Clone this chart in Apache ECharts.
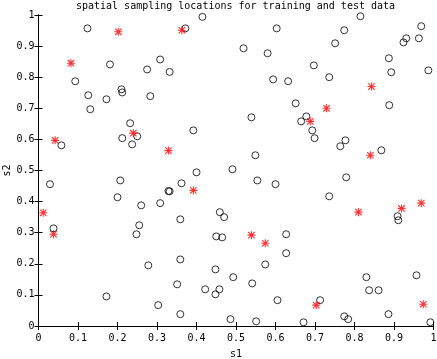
<!DOCTYPE html>
<html>
<head>
<meta charset="utf-8">
<script src="https://cdn.jsdelivr.net/npm/echarts@6/dist/echarts.min.js"></script>
<style>
  html, body { margin: 0; padding: 0; background: #fff; }
  #chart { width: 437px; height: 359px; }
</style>
</head>
<body>
<div id="chart"></div>
<script>
// training locations (open circles)
const trainS1 = [0.124, 0.415, 0.372, 0.181, 0.308, 0.275, 0.332, 0.093, 0.210, 0.212,
  0.126, 0.172, 0.283, 0.131, 0.232, 0.392, 0.212, 0.250, 0.237, 0.058,
  0.400, 0.491, 0.815, 0.603, 0.774, 0.969, 0.931, 0.924, 0.963, 0.751,
  0.519, 0.580, 0.887, 0.697, 0.893, 0.987, 0.736, 0.594, 0.632, 0.651,
  0.888, 0.539, 0.678, 0.665, 0.693, 0.699, 0.777, 0.764, 0.549, 0.868,
  0.029, 0.207, 0.362, 0.329, 0.332, 0.200, 0.260, 0.308, 0.459, 0.470,
  0.359, 0.038, 0.255, 0.248, 0.450, 0.465, 0.278, 0.359, 0.448, 0.493,
  0.172, 0.351, 0.422, 0.458, 0.448, 0.303, 0.359, 0.486, 0.554, 0.600,
  0.779, 0.736, 0.909, 0.911, 0.627, 0.627, 0.574, 0.541, 0.830, 0.957,
  0.837, 0.861, 0.605, 0.713, 0.551, 0.671, 0.774, 0.784, 0.886, 0.992];
const trainS2 = [0.957, 0.994, 0.957, 0.841, 0.857, 0.825, 0.817, 0.787, 0.761, 0.751,
  0.742, 0.729, 0.739, 0.697, 0.652, 0.629, 0.604, 0.610, 0.584, 0.581,
  0.494, 0.504, 0.996, 0.957, 0.951, 0.964, 0.925, 0.912, 0.925, 0.909,
  0.893, 0.877, 0.861, 0.838, 0.816, 0.822, 0.800, 0.793, 0.787, 0.716,
  0.710, 0.671, 0.674, 0.658, 0.629, 0.604, 0.597, 0.578, 0.549, 0.565,
  0.456, 0.468, 0.459, 0.434, 0.433, 0.414, 0.388, 0.395, 0.366, 0.350,
  0.343, 0.314, 0.324, 0.295, 0.288, 0.285, 0.195, 0.214, 0.182, 0.157,
  0.095, 0.134, 0.118, 0.118, 0.102, 0.067, 0.038, 0.022, 0.468, 0.456,
  0.478, 0.417, 0.353, 0.340, 0.295, 0.234, 0.198, 0.137, 0.157, 0.163,
  0.115, 0.115, 0.083, 0.083, 0.015, 0.012, 0.031, 0.022, 0.038, 0.012];

// test locations (red stars)
const testS1 = [0.202, 0.363, 0.082, 0.240, 0.042, 0.329, 0.843, 0.729, 0.688, 0.840,
  0.012, 0.038, 0.392, 0.539, 0.574, 0.810, 0.919, 0.969, 0.703, 0.974];
const testS2 = [0.946, 0.951, 0.845, 0.620, 0.597, 0.564, 0.770, 0.700, 0.658, 0.549,
  0.364, 0.295, 0.436, 0.292, 0.266, 0.366, 0.378, 0.395, 0.067, 0.070];

const titleText = 'spatial sampling locations for training and test data';
const font = 'DejaVu Sans Mono';

// asterisk = plus + cross
const starPath = 'path://M6,0L8,0L8,14L6,14Z M0,6L14,6L14,8L0,8Z ' +
  'M0.7,2.1L2.1,0.7L13.3,11.9L11.9,13.3Z M11.9,0.7L13.3,2.1L2.1,13.3L0.7,11.9Z';

const trainData = trainS1.map((v, i) => [v, trainS2[i]]);
const testData = testS1.map((v, i) => [v, testS2[i]]);

const boxAxis = {
  min: 0, max: 1, interval: 0.1,
  axisLine: { show: true, lineStyle: { color: '#000', width: 1 } },
  axisTick: { show: true, inside: true, length: 4, lineStyle: { color: '#000' } },
  splitLine: { show: false },
};

let chart = echarts.init(document.getElementById('chart'));
chart.setOption({
  animation: false,
  backgroundColor: '#fff',
  title: {
    text: titleText,
    left: 235.5,
    textAlign: 'center',
    top: 1,
    padding: 0,
    textStyle: { fontFamily: font, fontSize: 10, fontWeight: 'normal', color: '#000' }
  },
  grid: { left: 38.5, right: 3.5, top: 15, bottom: 33, containLabel: false, outerBoundsMode: 'none' },
  xAxis: [
    Object.assign({}, boxAxis, {
      type: 'value', position: 'bottom',
      name: 's1', nameLocation: 'middle', nameGap: 23, nameMoveOverlap: false,
      nameTextStyle: { fontFamily: font, fontSize: 10, color: '#000' },
      axisLabel: { fontFamily: font, fontSize: 10, color: '#000', margin: 7 }
    }),
    Object.assign({}, boxAxis, {
      type: 'value', position: 'top', axisLabel: { show: false }
    })
  ],
  yAxis: [
    Object.assign({}, boxAxis, {
      type: 'value', position: 'left',
      name: 's2', nameLocation: 'middle', nameGap: 26, nameRotate: 90, nameMoveOverlap: false,
      nameTextStyle: { fontFamily: font, fontSize: 10, color: '#000' },
      axisLabel: { fontFamily: font, fontSize: 10, color: '#000', margin: 4 }
    }),
    Object.assign({}, boxAxis, {
      type: 'value', position: 'right', axisLabel: { show: false }
    })
  ],
  series: [
    {
      name: 'training',
      type: 'scatter',
      data: trainData,
      symbol: 'circle',
      symbolSize: 7,
      itemStyle: { color: 'rgba(0,0,0,0)', borderColor: '#000', borderWidth: 1 },
      emphasis: { disabled: true }
    },
    {
      name: 'test',
      type: 'scatter',
      data: testData,
      symbol: starPath,
      symbolSize: 8,
      symbolKeepAspect: true,
      itemStyle: { color: '#ff0000' },
      emphasis: { disabled: true }
    }
  ]
});
</script>
</body>
</html>
